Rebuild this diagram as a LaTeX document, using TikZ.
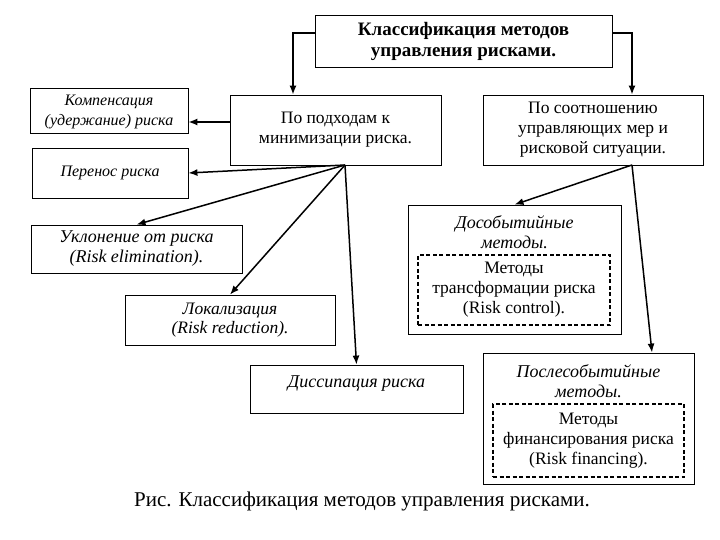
\documentclass[tikz,border=0pt]{standalone}
\usepackage{fontspec}
\setmainfont{Liberation Serif}
\usepackage{tikz}
\usetikzlibrary{arrows.meta}

\tikzset{
  box/.style={draw, line width=0.8pt, align=center, inner sep=2pt},
  dbox/.style={draw, line width=1.6pt, dash pattern=on 4pt off 2.5pt, align=center, inner sep=2pt},
  ital/.style={font=\fontsize{18}{20}\selectfont\itshape},
  smallital/.style={font=\fontsize{16}{20}\selectfont\itshape},
  plain/.style={font=\fontsize{17.5}{20}\selectfont},
  arr/.style={-{Latex[length=9pt,width=7pt]}, line width=1.5pt}
}

\begin{document}
\begin{tikzpicture}[x=1pt,y=-1pt]
    \useasboundingbox (0,0) rectangle (720,540);
    % top level
    \node[box, minimum width=297, minimum height=52, font=\fontsize{19}{21}\selectfont\bfseries] (klass) at (463.5,41) {Классификация методов\\управления рисками.};
    \node[box, plain, minimum width=211, minimum height=70] (podkhod) at (335.5,130) {По подходам к\\минимизации риска.};
    \node[box, plain, minimum width=220, minimum height=70] (sootn) at (593,130) {По соотношению\\управляющих мер и\\рисковой ситуации.};
    \draw[arr] (klass.west |- 0,33) -- (293,33) -- (podkhod.north -| 293,0);
    \draw[arr] (klass.east |- 0,33) -- (632,33) -- (sootn.north -| 632,0);

    % left branch
    \node[box, smallital, minimum width=158, minimum height=45, text depth=0pt] (komp) at (109,110.5) {Компенсация\\(удержание) риска};
    \node[box, smallital, minimum width=156, minimum height=50] (perenos) at (110,173) {Перенос риска};
    \node[box, ital, minimum width=211, minimum height=48] (uklon) at (136.5,249) {Уклонение от риска\\(Risk elimination).};
    \node[box, ital, font=\fontsize{17.5}{19}\selectfont\itshape, minimum width=210, minimum height=50] (lokal) at (230,320) {Локализация\\(Risk reduction).};
    \node[box, ital, minimum width=213, minimum height=48, text depth=14pt] (dissip) at (356.5,389) {Диссипация риска};
    \coordinate (lfan) at (345,165);
    \draw[arr] (podkhod.west |- 0,122) -- (komp.east |- 0,122);
    \draw[arr] (lfan) -- (perenos.east);
    \draw[arr] (lfan) -- (uklon.north);
    \draw[arr] (lfan) -- (lokal.north);
    \draw[arr] (lfan) -- (dissip.north);

    % right branch
    \node[box, minimum width=213, minimum height=129] (pre) at (514.5,269.5) {};
    \node[ital, anchor=north, align=center] (pretitle) at ([yshift=-7pt]pre.north) {Дособытийные\\методы.};
    \node[dbox, plain, minimum width=192, minimum height=70] (transf) at (514,290) {Методы\\трансформации риска\\(Risk control).};
    \node[box, minimum width=211, minimum height=131] (post) at (588.5,418.5) {};
    \node[ital, anchor=north, align=center] (posttitle) at ([yshift=-8pt]post.north) {Послесобытийные\\методы.};
    \node[dbox, plain, minimum width=191, minimum height=73] (finans) at (588.5,440.5) {Методы\\финансирования риска\\(Risk financing).};
    \coordinate (rfan) at (632,165);
    \draw[arr] (rfan) -- (pre.north);
    \draw[arr] (rfan) -- (post.north -| 652,0);

    % caption
    \node[font=\fontsize{21}{24}\selectfont] (caption) at (362,501) {Рис. Классификация методов управления рисками.};
\end{tikzpicture}
\end{document}
